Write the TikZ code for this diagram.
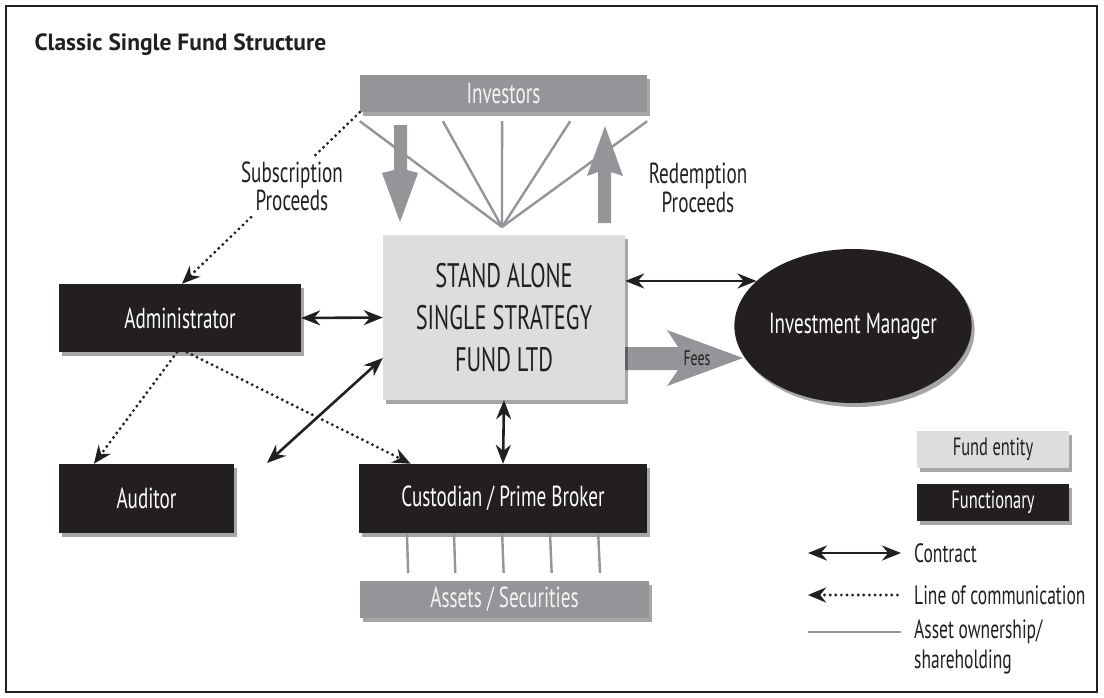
\documentclass[tikz,border=0pt]{standalone}
\usepackage{fontspec}
\setmainfont{PT Sans}
\newfontfamily\cond[FakeStretch=0.66]{PT Sans}
\usetikzlibrary{shapes.geometric,shadows,arrows.meta,calc}
\definecolor{ink}{HTML}{231F20}
\definecolor{fundgray}{HTML}{DCDDDE}
\definecolor{midgray}{HTML}{939598}
\definecolor{pale}{HTML}{F4F4F4}
\tikzset{
  shadowed/.style={drop shadow={shadow xshift=3pt,shadow yshift=-4pt,opacity=0.35,fill=black}},
  fundbox/.style={shadowed,fill=fundgray,text=ink,inner sep=0pt},
  funcbox/.style={shadowed,fill=ink,text=white,inner sep=0pt},
  groupbox/.style={shadowed,fill=midgray,text=pale,inner sep=0pt},
  lbl/.style={font=\cond\fontsize{29}{31}\selectfont},
  leg/.style={font=\cond\fontsize{26.5}{30}\selectfont,text=ink},
  contract/.style={draw=ink,line width=2.6pt,{Stealth[length=19pt,width=15pt]}-{Stealth[length=19pt,width=15pt]}},
  comm/.style={draw=ink,line width=3.2pt,dash pattern=on 0pt off 5.6pt,line cap=round},
  commtip/.style={-{Stealth[length=18pt,width=15pt,line cap=butt]}},
  own/.style={draw=midgray,line width=2.4pt},
  flow/.style={fill=midgray},
}
\begin{document}
\begin{tikzpicture}[x=1pt,y=-1pt]
\useasboundingbox (0,0) rectangle (1104,697);
\fill[white] (0,0) rectangle (1104,697);
\draw[ink,line width=1.8pt] (6,6) rectangle (1097,692);

\node[anchor=west,font=\bfseries\fontsize{23.5}{27}\selectfont,text=ink] (title) at (31,45) {Classic Single Fund Structure};

% top group
\node[groupbox,lbl,minimum width=287,minimum height=37] (inv) at (503.5,93.5) {Investors};
\coordinate (apex) at (502,227);
\foreach \f in {0,0.289,0.495,0.732,1}
  \draw[own] ($(inv.south west)!\f!(inv.south east)+(0,9)$) -- (apex);

% subscription / redemption flows
\fill[flow] (394,125) -- (407,125) -- (407,170) -- (418,173) -- (400,222) -- (382,173) -- (394,170) -- cycle;
\fill[flow] (598,223) -- (611,223) -- (611,172) -- (623,176) -- (605,126) -- (587,176) -- (598,172) -- cycle;

% fees arrow
\fill[flow] (610,347) -- (678,347) -- (667,330) -- (743,358) -- (667,386) -- (678,370) -- (610,370) -- cycle;

% main nodes
\node[fundbox,minimum width=242,minimum height=165,align=center,font=\cond\fontsize{34}{42}\selectfont] (fund) at (504,317.5) {STAND ALONE\\SINGLE STRATEGY\\FUND LTD};
\node[font=\cond\fontsize{21}{24}\selectfont,text=ink] (fees) at (697,358) {Fees};

\node[funcbox,lbl,minimum width=242,minimum height=68] (admin) at (180,318) {Administrator};
\node[funcbox,lbl,minimum width=175,minimum height=69] (aud) at (146.5,498.5) {Auditor};
\node[funcbox,lbl,minimum width=288,minimum height=69] (cust) at (503,498.5) {Custodian / Prime Broker};
\node[groupbox,lbl,minimum width=289,minimum height=37] (assets) at (504.5,599.5) {Assets / Securities};
\node[funcbox,lbl,ellipse,minimum width=220,minimum height=154] (im) at (853,326) {Investment Manager};

% ownership of assets
\foreach \f in {0.167,0.330,0.497,0.663,0.830}
  \draw[own] ($(cust.south west)!\f!(cust.south east)$) -- ($(assets.north west)!\f!(assets.north east)+(0,-8)$);

% communication lines
\draw[comm,commtip] (inv.south west) -- ($(admin.north)+(2,0)$);
\draw[comm,commtip] ($(admin.south)+(-3,0)$) -- ($(aud.north west)!0.2!(aud.north east)$);
\draw[comm,commtip] ($(admin.south)+(7,0)$) -- ($(cust.north west)!0.18!(cust.north east)$);

\node[lbl,fill=white,text=ink,align=center,inner sep=5pt,font=\cond\fontsize{29}{28}\selectfont] (sub) at (292,186) {Subscription\\Proceeds};
\node[lbl,text=ink,align=center,font=\cond\fontsize{29}{29}\selectfont] (red) at (698,188) {Redemption\\Proceeds};

% contracts
\draw[contract] (admin.east) -- (fund.west);
\draw[contract] (fund.east |- im.155.5) -- (im.155.5);
\draw[contract] (fund.south) -- (cust.north);
\coordinate (dA) at (267,463);
\draw[contract] (dA) -- ($(fund.north west)!0.745!(fund.south west)$);

% legend
\node[fundbox,minimum width=152,minimum height=37,font=\cond\fontsize{25}{28}\selectfont] (lfund) at (993,449.5) {Fund entity};
\node[funcbox,minimum width=152,minimum height=37,font=\cond\fontsize{25}{28}\selectfont] (lfunc) at (993,502.5) {Functionary};

\node[leg,anchor=west,inner sep=0pt] (tcon) at (914,553) {Contract};
\node[leg,anchor=west,inner sep=0pt] (tcom) at (914,595) {Line of communication};
\node[leg,anchor=west,align=left,inner sep=0pt] (town) at (914,647) {Asset ownership/\\shareholding};
\coordinate (c1) at (808,553);
\coordinate (c2) at (808,595);
\coordinate (c3) at (808,632);
\draw[contract] (c1) -- ($(tcon.west)+(-13,0)$);
\draw[comm,{Stealth[length=18pt,width=15pt,line cap=butt]}-] (c2) -- ($(tcom.west)+(-13,0)$);
\draw[own] (c3) -- ($(c3 -| town.west)+(-13,0)$);
\end{tikzpicture}
\end{document}
